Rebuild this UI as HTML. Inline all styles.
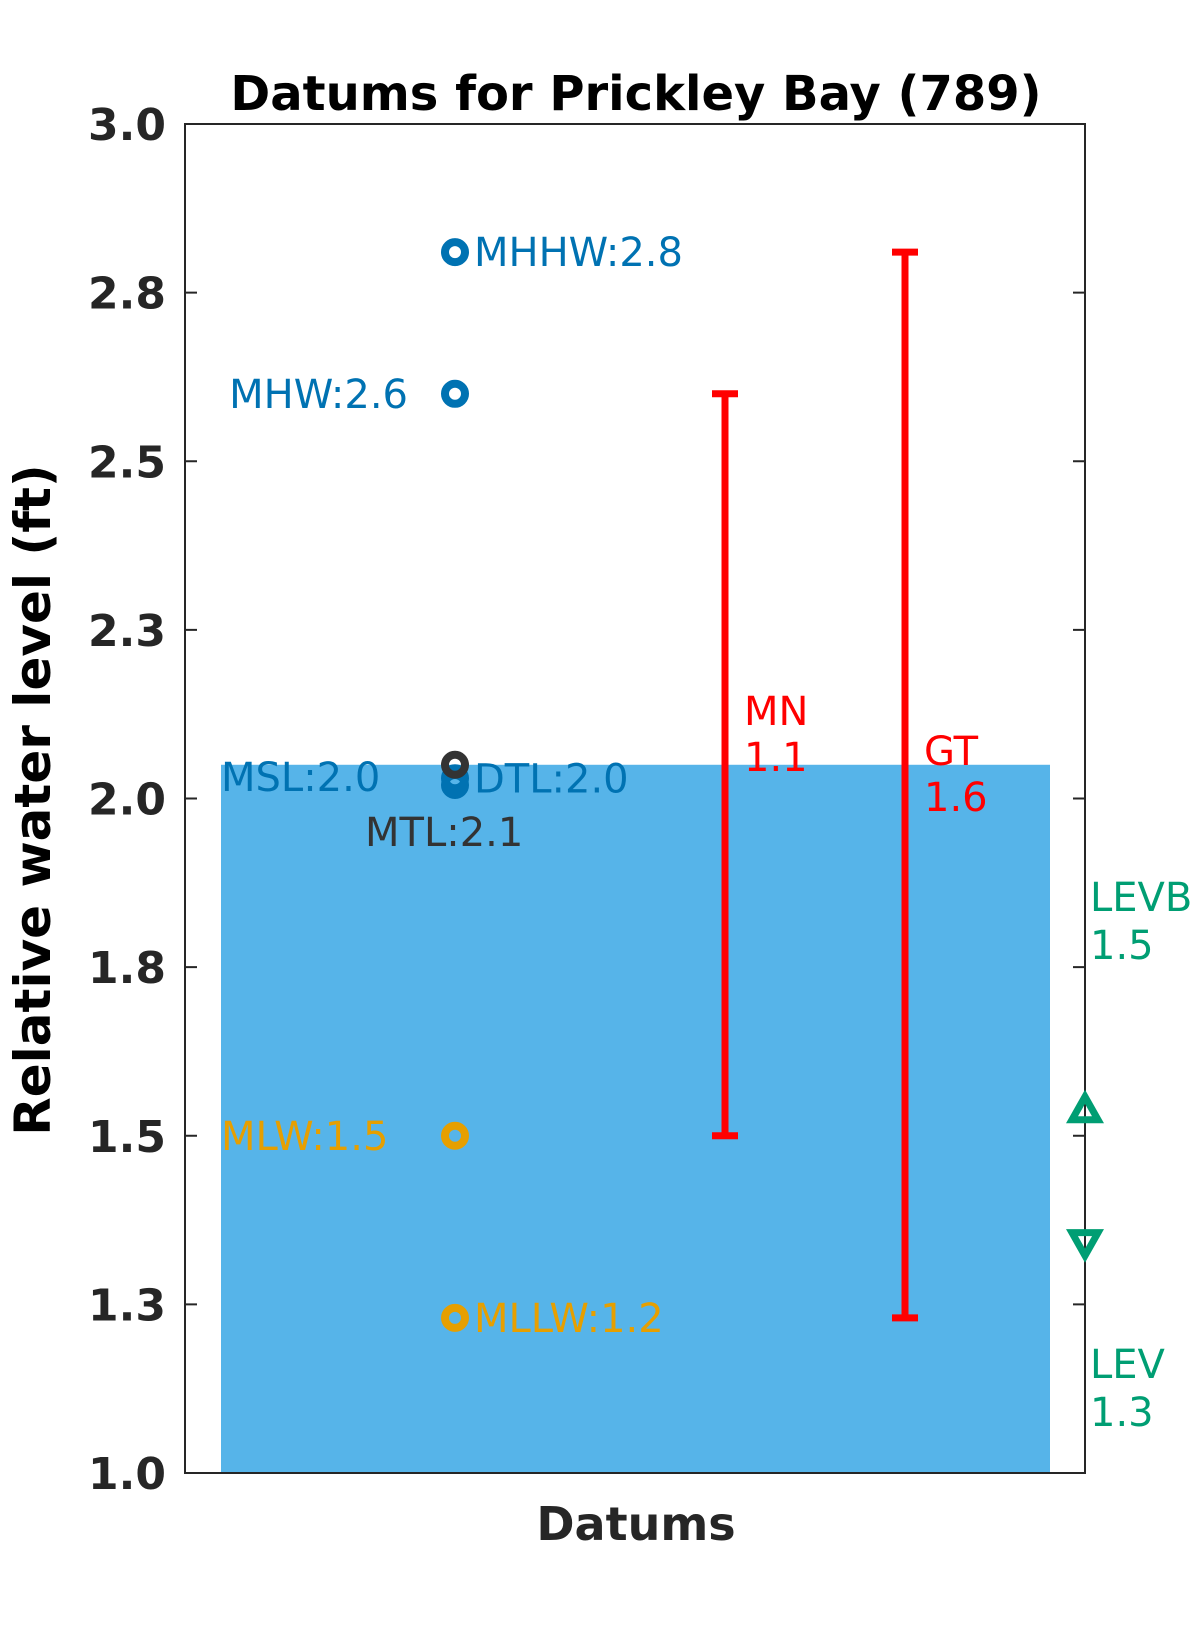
<!DOCTYPE html>
<html><head><meta charset="utf-8"><style>
html,body{margin:0;padding:0;background:#fff;}
svg{display:block;font-family:"DejaVu Sans","Liberation Sans",sans-serif;}
</style></head><body>
<svg id="chart" width="1200" height="1650" viewBox="0 0 1200 1650">
<text x="636" y="110" text-anchor="middle" font-size="48" font-weight="bold" fill="#000">Datums for Prickley Bay (789)</text>
<text transform="translate(50,800) rotate(-90)" text-anchor="middle" font-size="50" font-weight="bold" fill="#000">Relative water level (ft)</text>
<text x="636" y="1540" text-anchor="middle" font-size="46" font-weight="bold" fill="#262626">Datums</text>
<g id="plot"></g>
</svg>
<script>
const tickValues = [1.0,1.25,1.5,1.75,2.0,2.25,2.5,2.75,3.0];
const tickLabels = ["1.0","1.3","1.5","1.8","2.0","2.3","2.5","2.8","3.0"];
const barTop = 2.05;
const datumNames = ["MHHW","MHW","MSL","DTL","MTL","MLW","MLLW"];
const datumValues = [2.81,2.60,2.02,2.03,2.05,1.50,1.23];
const datumLabels = ["MHHW:2.8","MHW:2.6","MSL:2.0","DTL:2.0","MTL:2.1","MLW:1.5","MLLW:1.2"];
const rangeNames = ["MN","GT"];
const rangeLow = [1.50,1.23];
const rangeHigh = [2.60,2.81];
const rangeLabels = ["1.1","1.6"];
const levNames = ["LEVB","LEV"];
const levValues = [1.54,1.34];
const levLabels = ["1.5","1.3"];

const L=185,R=1085,T=124,B=1473,ymin=1,ymax=3;
const y=v=>B-(v-ymin)/(ymax-ymin)*(B-T);
const NS="http://www.w3.org/2000/svg";
const g=document.getElementById('plot');
function mk(tag,attrs,txt){const e=document.createElementNS(NS,tag);for(const k in attrs)e.setAttribute(k,attrs[k]);if(txt!==undefined)e.textContent=txt;g.appendChild(e);return e;}

let e=mk('rect',{x:221,y:y(barTop),width:1050-221,height:B-y(barTop),fill:'#56B4E9'});



e=mk('rect',{x:L,y:T,width:R-L,height:B-T,fill:'none',stroke:'#262626','stroke-width':2});



tickValues.forEach((v,i)=>{
  let t=mk('line',{x1:L,x2:L+12,y1:y(v),y2:y(v),stroke:'#262626','stroke-width':2});
  
  
  t=mk('line',{x1:R-12,x2:R,y1:y(v),y2:y(v),stroke:'#262626','stroke-width':2});
  
  
  t=mk('text',{x:166,y:y(v)+16,'text-anchor':'end','font-size':44,'font-weight':'bold',fill:'#262626'},tickLabels[i]);
  
  
});

const dcol={MHHW:'#0072B2',MHW:'#0072B2',MSL:'#0072B2',DTL:'#0072B2',MTL:'#333333',MLW:'#E69F00',MLLW:'#E69F00'};
const dpos={MHHW:[474,'start',0],MHW:[408,'end',0],MSL:[221,'start',-8],DTL:[474,'start',0],MTL:[365,'start',67],MLW:[221,'start',0],MLLW:[474,'start',0]};
const mx=455;
datumNames.forEach((n,i)=>{
  const c=dcol[n],yy=y(datumValues[i]);
  let m=mk('circle',{cx:mx,cy:yy,r:10,fill:'none',stroke:c,'stroke-width':8});
  
  
  const p=dpos[n];
  m=mk('text',{x:p[0],y:yy+p[2]+14,'text-anchor':p[1],'font-size':40,fill:c},datumLabels[i]);
  
  
});

const rx=[725,905],rlx=[744,924];
rangeNames.forEach((n,i)=>{
  const y1=y(rangeHigh[i]),y2=y(rangeLow[i]),x=rx[i];
  let l=mk('path',{d:`M${x},${y1}V${y2}M${x-13},${y1}H${x+13}M${x-13},${y2}H${x+13}`,stroke:'#FF0000','stroke-width':7,fill:'none'});
  
  
  const ym=(y1+y2)/2+ (i?20:0) - 30;
  l=mk('text',{x:rlx[i],y:ym-10,'font-size':40,fill:'#FF0000'},n);
  
  
  l=mk('text',{x:rlx[i],y:ym+36,'font-size':40,fill:'#FF0000'},rangeLabels[i]);
  
  
});

const lly=[921,1388];
levNames.forEach((n,i)=>{
  const yy=y(levValues[i]);
  const d=i===0?`M${R},${yy-12}L${R-13},${yy+11}H${R+13}Z`:`M${R},${yy+12}L${R-13},${yy-11}H${R+13}Z`;
  let t=mk('path',{d:d,fill:'none',stroke:'#009E73','stroke-width':7,'stroke-linejoin':'miter'});
  
  
  t=mk('text',{x:1090,y:lly[i]-10,'font-size':40,fill:'#009E73'},n);
  
  
  t=mk('text',{x:1090,y:lly[i]+38,'font-size':40,fill:'#009E73'},levLabels[i]);
  
  
});
</script>
</body></html>
